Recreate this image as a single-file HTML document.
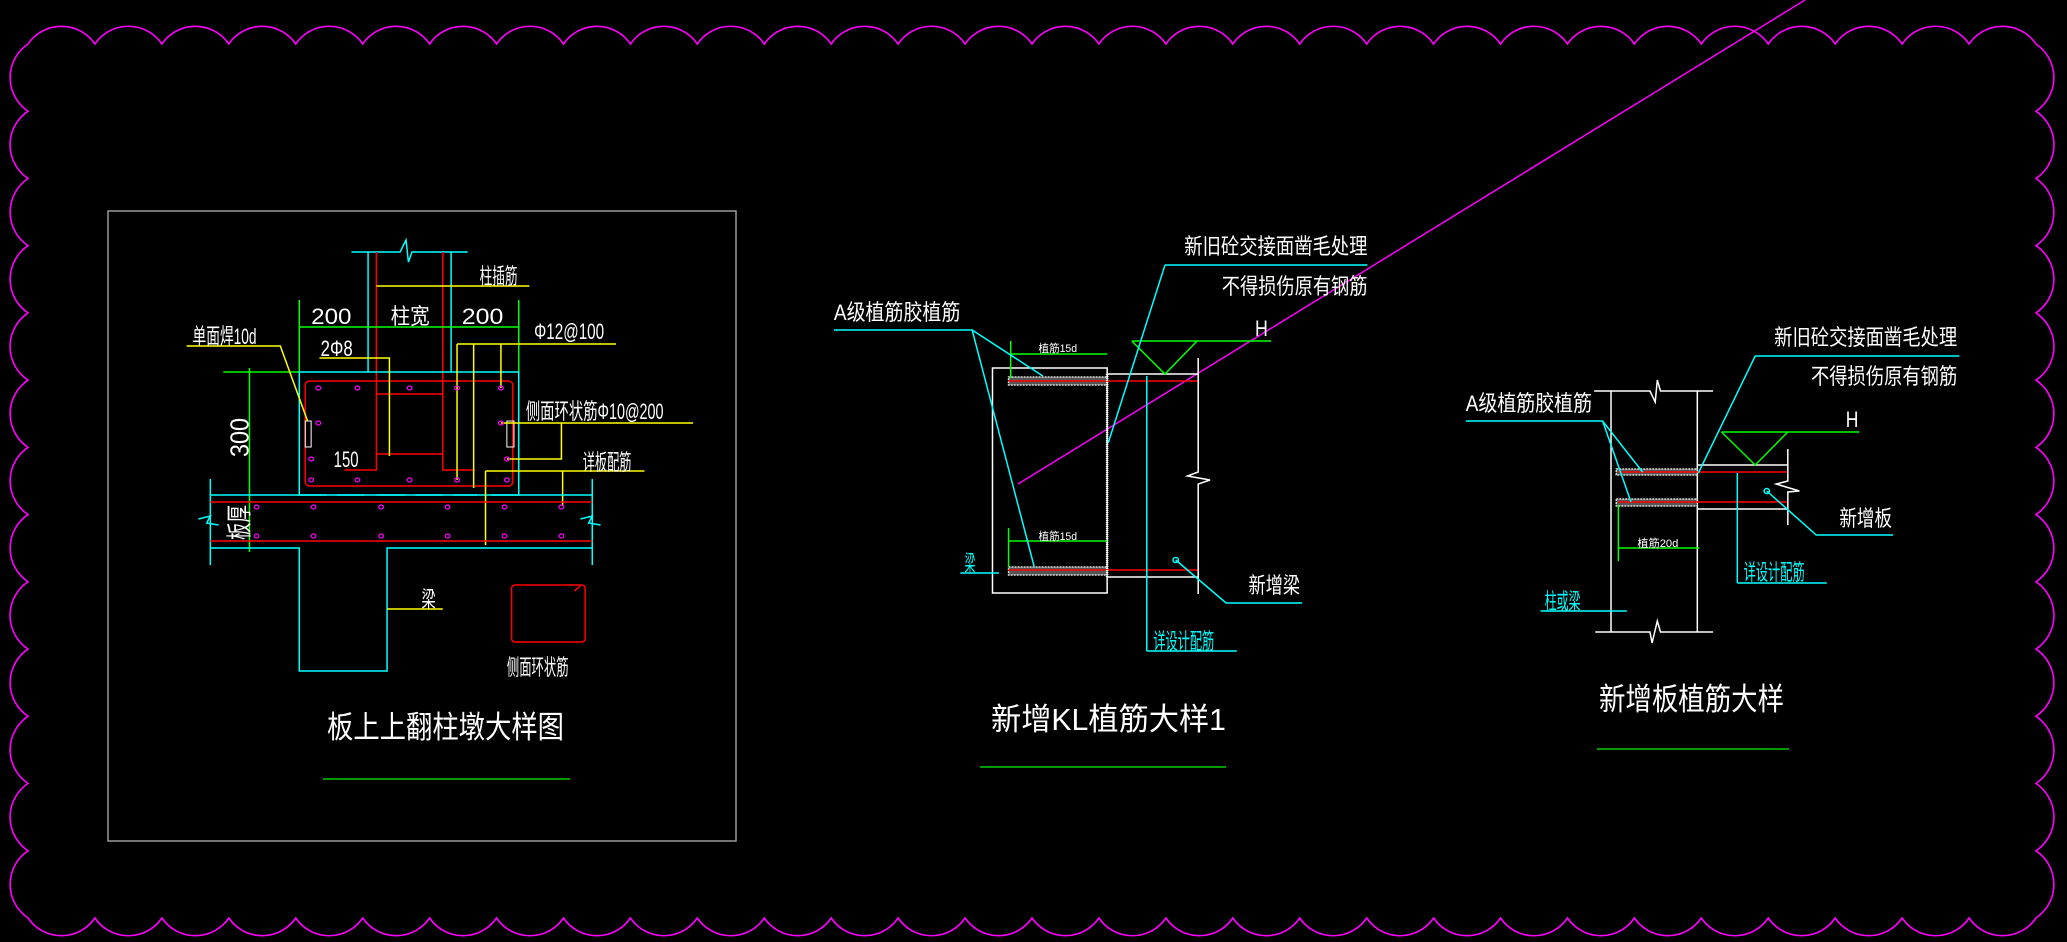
<!DOCTYPE html>
<html><head><meta charset="utf-8"><style>
html,body{margin:0;padding:0;background:#000;}
svg{display:block}
text{font-family:"Liberation Sans","Noto Sans CJK SC",sans-serif;fill:#fff;}
.c{fill:#0ff}
line,polyline,rect,circle,path{vector-effect:non-scaling-stroke}
</style></head><body>
<svg id="s" width="2067" height="942" viewBox="0 0 2067 942" xmlns="http://www.w3.org/2000/svg">
<rect width="2067" height="942" fill="#000"/>
<path id="border" d="" fill="none" stroke="#f0f" stroke-width="1.6"/>
<line x1="1018" y1="484" x2="1805" y2="0" stroke="#f0f" stroke-width="1.5"/>

<!-- LEFT PANEL -->
<rect x="108" y="211" width="628" height="630" fill="none" stroke="#999" stroke-width="1.5"/>
<g transform="translate(100,0) scale(1.1862,1) translate(-100,0)">
<g fill="none" stroke-width="1.5">
 <polyline points="312,252 353,252 358,240 360,262 363,252 410,252" stroke="#0ff"/>
 <line x1="326" y1="252" x2="326" y2="372" stroke="#0ff"/>
 <line x1="396" y1="252" x2="396" y2="372" stroke="#0ff"/>
 <polyline points="333,252 333,470 306,470" stroke="#f00"/>
 <polyline points="389,252 389,470 416,470" stroke="#f00"/>
 <line x1="333" y1="394" x2="389" y2="394" stroke="#f00"/>
 <line x1="333" y1="454" x2="389" y2="454" stroke="#f00"/>
 <line x1="333" y1="286" x2="462" y2="286" stroke="#ff0"/>
 <line x1="268" y1="327" x2="453" y2="327" stroke="#0f0"/>
 <line x1="268" y1="300" x2="268" y2="372" stroke="#0f0"/>
 <line x1="453" y1="300" x2="453" y2="372" stroke="#0f0"/>
 <line x1="204" y1="372" x2="268" y2="372" stroke="#0f0"/>
 <line x1="226" y1="368" x2="226" y2="552" stroke="#0f0"/>
 <rect x="268" y="372" width="185" height="123" stroke="#0ff"/>
 <rect x="273" y="381" width="175" height="105" rx="4" stroke="#f00"/>
 <rect x="273" y="421" width="5" height="26" stroke="#fff" stroke-width="1"/>
 <rect x="443" y="421" width="6" height="26" stroke="#fff" stroke-width="1"/>
 <polyline points="173,346 252,346 275,421" stroke="#ff0"/>
 <polyline points="285,358 344,358 344,456" stroke="#ff0"/>
 <line x1="401" y1="344" x2="535" y2="344" stroke="#ff0"/>
 <line x1="401" y1="344" x2="401" y2="480" stroke="#ff0"/>
 <line x1="415" y1="344" x2="415" y2="488" stroke="#ff0"/>
 <line x1="438" y1="344" x2="438" y2="388" stroke="#ff0"/>
 <polyline points="443,459 489,459 489,423" stroke="#ff0"/>
 <line x1="438" y1="423" x2="600" y2="423" stroke="#ff0"/>
 <line x1="425" y1="471" x2="559" y2="471" stroke="#ff0"/>
 <line x1="425" y1="471" x2="425" y2="545" stroke="#ff0"/>
 <line x1="490" y1="471" x2="490" y2="506" stroke="#ff0"/>
 <line x1="193" y1="495" x2="291" y2="495" stroke="#0ff"/>
 <line x1="300" y1="495" x2="323" y2="495" stroke="#0ff"/>
 <line x1="333" y1="495" x2="357" y2="495" stroke="#0ff"/>
 <line x1="366" y1="495" x2="389" y2="495" stroke="#0ff"/>
 <line x1="398" y1="495" x2="418" y2="495" stroke="#0ff"/>
 <line x1="430" y1="495" x2="515" y2="495" stroke="#0ff"/>
 <line x1="193" y1="479" x2="193" y2="565" stroke="#0ff"/>
 <line x1="515" y1="479" x2="515" y2="565" stroke="#0ff"/>
 <polyline points="183,519 193,516 190,523 200,525" stroke="#0ff"/>
 <polyline points="505,519 515,516 512,523 522,525" stroke="#0ff"/>
 <line x1="193" y1="502" x2="515" y2="502" stroke="#f00"/>
 <line x1="193" y1="541" x2="515" y2="541" stroke="#f00"/>
 <polyline points="193,548 268,548 268,671 342,671 342,548 515,548" stroke="#0ff"/>
 <line x1="342" y1="609" x2="389" y2="609" stroke="#ff0"/>
 <rect x="447" y="585" width="62" height="57" rx="3" stroke="#f00"/>
 <line x1="500" y1="591" x2="505" y2="586" stroke="#f00"/>
</g>
<g fill="none" stroke="#f0f" stroke-width="1.2">
 <circle cx="284" cy="388" r="2"/><circle cx="317" cy="388" r="2"/><circle cx="361" cy="388" r="2"/><circle cx="401" cy="388" r="2"/><circle cx="438" cy="388" r="2"/>
 <circle cx="284" cy="423" r="2"/><circle cx="438" cy="423" r="2"/><circle cx="278" cy="459" r="2"/><circle cx="443" cy="459" r="2"/>
 <circle cx="278" cy="480" r="2"/><circle cx="317" cy="480" r="2"/><circle cx="361" cy="480" r="2"/><circle cx="401" cy="480" r="2"/><circle cx="443" cy="480" r="2"/>
 <circle cx="232" cy="507" r="2"/><circle cx="280" cy="507" r="2"/><circle cx="337" cy="507" r="2"/><circle cx="393" cy="507" r="2"/><circle cx="441" cy="507" r="2"/><circle cx="489" cy="507" r="2"/>
 <circle cx="232" cy="536" r="2"/><circle cx="280" cy="536" r="2"/><circle cx="337" cy="536" r="2"/><circle cx="393" cy="536" r="2"/><circle cx="441" cy="536" r="2"/><circle cx="489" cy="536" r="2"/>
</g>
<g font-size="22">
 <text x="420" y="284" textLength="32" lengthAdjust="spacingAndGlyphs">柱插筋</text>
 <text x="278" y="324" textLength="34" lengthAdjust="spacingAndGlyphs">200</text>
 <text x="345" y="324" textLength="33" lengthAdjust="spacingAndGlyphs">柱宽</text>
 <text x="405" y="324" textLength="35" lengthAdjust="spacingAndGlyphs">200</text>
 <text x="178" y="344" textLength="54" lengthAdjust="spacingAndGlyphs">单面焊10d</text>
 <text x="286" y="356" textLength="27" lengthAdjust="spacingAndGlyphs">2Φ8</text>
 <text x="466" y="339" textLength="59" lengthAdjust="spacingAndGlyphs">Φ12@100</text>
 <text x="459" y="419" textLength="116" lengthAdjust="spacingAndGlyphs">侧面环状筋Φ10@200</text>
 <text x="507" y="470" textLength="41" lengthAdjust="spacingAndGlyphs">详板配筋</text>
 <text x="297" y="467" textLength="21" lengthAdjust="spacingAndGlyphs">150</text>
 <text transform="translate(225,457) rotate(-90)" textLength="39" lengthAdjust="spacingAndGlyphs">300</text>
 <text transform="translate(225,540) rotate(-90)" textLength="35" lengthAdjust="spacingAndGlyphs">板厚</text>
 <text x="371" y="607" textLength="12" lengthAdjust="spacingAndGlyphs">梁</text>
 <text x="443" y="675" textLength="52" lengthAdjust="spacingAndGlyphs">侧面环状筋</text>
</g>
</g>
<text x="327" y="738" font-size="31" textLength="237" lengthAdjust="spacingAndGlyphs">板上上翻柱墩大样图</text>
<line x1="323" y1="779" x2="570" y2="779" stroke="#0c0" stroke-width="1.5"/>

<!-- MIDDLE -->
<g transform="translate(820,0) scale(1.0714,1) translate(-820,0)">
<g fill="none" stroke-width="1.5">
 <rect x="981" y="368" width="107" height="225" stroke="#fff"/>
 <rect x="996" y="377" width="92" height="8" stroke="#ddd" fill="#555" stroke-dasharray="2,1"/>
 <rect x="996" y="567" width="92" height="8" stroke="#ddd" fill="#555" stroke-dasharray="2,1"/>
 <line x1="996" y1="381" x2="1173" y2="381" stroke="#f00"/>
 <line x1="996" y1="570" x2="1173" y2="570" stroke="#f00"/>
 <line x1="1088" y1="374" x2="1088" y2="577" stroke="#fff" stroke-width="2.5" stroke-dasharray="1,1"/>
 <line x1="998" y1="354" x2="1088" y2="354" stroke="#0f0"/>
 <line x1="998" y1="341" x2="998" y2="378" stroke="#0f0"/>
 <line x1="996" y1="541" x2="1088" y2="541" stroke="#0f0"/>
 <line x1="996" y1="528" x2="996" y2="567" stroke="#0f0"/>
 <line x1="1088" y1="374" x2="1173" y2="374" stroke="#fff"/>
 <line x1="1088" y1="577" x2="1173" y2="577" stroke="#fff"/>
 <polyline points="1173,358 1173,472 1163,476 1184,480 1173,484 1173,594" stroke="#fff"/>
 <line x1="1111" y1="341" x2="1241" y2="341" stroke="#0f0"/>
 <polyline points="1111,341 1142,374 1172,341" stroke="#0f0"/>
 <polyline points="1142,265 1331,265" stroke="#0ff"/>
 <line x1="1142" y1="265" x2="1089" y2="443" stroke="#0ff"/>
 <polyline points="833,330 962,330 1028,376" stroke="#0ff"/>
 <line x1="962" y1="330" x2="1020" y2="567" stroke="#0ff"/>
 <line x1="1125" y1="376" x2="1125" y2="651" stroke="#0ff"/>
 <line x1="1125" y1="651" x2="1209" y2="651" stroke="#0ff"/>
 <polyline points="1152,560 1199,603 1270,603" stroke="#0ff"/>
 <circle cx="1152" cy="560" r="2.5" stroke="#0ff"/>
 <line x1="951" y1="573" x2="987" y2="573" stroke="#0ff"/>
</g>
<g font-size="22">
 <text x="1160" y="254" textLength="171" lengthAdjust="spacingAndGlyphs">新旧砼交接面凿毛处理</text>
 <text x="1195" y="294" textLength="136" lengthAdjust="spacingAndGlyphs">不得损伤原有钢筋</text>
 <text x="833" y="320" textLength="118" lengthAdjust="spacingAndGlyphs">A级植筋胶植筋</text>
 <text x="1226" y="336" textLength="12" lengthAdjust="spacingAndGlyphs">H</text>
 <text x="1220" y="593" textLength="48" lengthAdjust="spacingAndGlyphs">新增梁</text>
 <text class="c" x="1131" y="649" textLength="57" lengthAdjust="spacingAndGlyphs">详设计配筋</text>
 <text class="c" x="955" y="571" textLength="10" lengthAdjust="spacingAndGlyphs">梁</text>
</g>
<g font-size="11">
 <text x="1024" y="352" textLength="36" lengthAdjust="spacingAndGlyphs">植筋15d</text>
 <text x="1024" y="540" textLength="36" lengthAdjust="spacingAndGlyphs">植筋15d</text>
</g>
</g>
<text x="991" y="730" font-size="31" textLength="235" lengthAdjust="spacingAndGlyphs">新增KL植筋大样1</text>
<line x1="980" y1="767" x2="1226" y2="767" stroke="#0c0" stroke-width="1.5"/>

<!-- RIGHT -->
<g transform="translate(1450,0) scale(1.0524,1) translate(-1450,0)">
<g fill="none" stroke-width="1.5">
 <polyline points="1587,391 1640,391 1645,402 1647,380 1650,391 1700,391" stroke="#fff"/>
 <polyline points="1588,632 1640,632 1642,643 1647,621 1650,632 1700,632" stroke="#fff"/>
 <line x1="1603" y1="391" x2="1603" y2="632" stroke="#fff"/>
 <line x1="1685" y1="391" x2="1685" y2="632" stroke="#fff"/>
 <rect x="1608" y="469" width="77" height="6" stroke="#ddd" fill="#555" stroke-dasharray="2,1"/>
 <rect x="1608" y="499" width="77" height="7" stroke="#ddd" fill="#555" stroke-dasharray="2,1"/>
 <line x1="1610" y1="472" x2="1771" y2="472" stroke="#f00"/>
 <line x1="1610" y1="502" x2="1771" y2="502" stroke="#f00"/>
 <line x1="1685" y1="465" x2="1771" y2="465" stroke="#fff"/>
 <line x1="1685" y1="509" x2="1771" y2="509" stroke="#fff"/>
 <polyline points="1771,449 1771,481 1760,484 1782,491 1771,492 1771,525" stroke="#fff"/>
 <line x1="1708" y1="432" x2="1839" y2="432" stroke="#0f0"/>
 <polyline points="1708,432 1740,465 1771,432" stroke="#0f0"/>
 <line x1="1610" y1="548" x2="1687" y2="548" stroke="#0f0"/>
 <line x1="1610" y1="505" x2="1610" y2="561" stroke="#0f0"/>
 <line x1="1740" y1="356" x2="1934" y2="356" stroke="#0ff"/>
 <line x1="1740" y1="356" x2="1686" y2="473" stroke="#0ff"/>
 <polyline points="1465,421 1595,421 1633,472" stroke="#0ff"/>
 <line x1="1595" y1="421" x2="1622" y2="502" stroke="#0ff"/>
 <line x1="1723" y1="473" x2="1723" y2="583" stroke="#0ff"/>
 <line x1="1723" y1="583" x2="1808" y2="583" stroke="#0ff"/>
 <polyline points="1751,491 1798,535 1871,535" stroke="#0ff"/>
 <circle cx="1751" cy="491" r="2.5" stroke="#0ff"/>
 <line x1="1536" y1="611" x2="1618" y2="611" stroke="#0ff"/>
</g>
<g font-size="22">
 <text x="1758" y="345" textLength="174" lengthAdjust="spacingAndGlyphs">新旧砼交接面凿毛处理</text>
 <text x="1793" y="384" textLength="139" lengthAdjust="spacingAndGlyphs">不得损伤原有钢筋</text>
 <text x="1465" y="411" textLength="120" lengthAdjust="spacingAndGlyphs">A级植筋胶植筋</text>
 <text x="1826" y="427" textLength="12" lengthAdjust="spacingAndGlyphs">H</text>
 <text x="1820" y="526" textLength="50" lengthAdjust="spacingAndGlyphs">新增板</text>
 <text class="c" x="1729" y="580" textLength="58" lengthAdjust="spacingAndGlyphs">详设计配筋</text>
 <text class="c" x="1540" y="609" textLength="34" lengthAdjust="spacingAndGlyphs">柱或梁</text>
</g>
<text x="1628" y="547" font-size="11" textLength="39" lengthAdjust="spacingAndGlyphs">植筋20d</text>
</g>
<text x="1599" y="710" font-size="31" textLength="185" lengthAdjust="spacingAndGlyphs">新增板植筋大样</text>
<line x1="1597" y1="749" x2="1789" y2="749" stroke="#0c0" stroke-width="1.5"/>
</svg>
<script>
(function(){
 var L=28,R=2036,T=44,B=918,r=40.5,d="M"+L+","+T;
 function edge(x0,y0,x1,y1,n){var s="";for(var i=1;i<=n;i++){var x=x0+(x1-x0)*i/n,y=y0+(y1-y0)*i/n;s+=" A"+r+","+r+" 0 0 1 "+x.toFixed(1)+","+y.toFixed(1);}return s;}
 d+=edge(L,T,R,T,30)+edge(R,T,R,B,13)+edge(R,B,L,B,30)+edge(L,B,L,T,13)+"Z";
 document.getElementById("border").setAttribute("d",d);
})();
</script>
</body></html>
